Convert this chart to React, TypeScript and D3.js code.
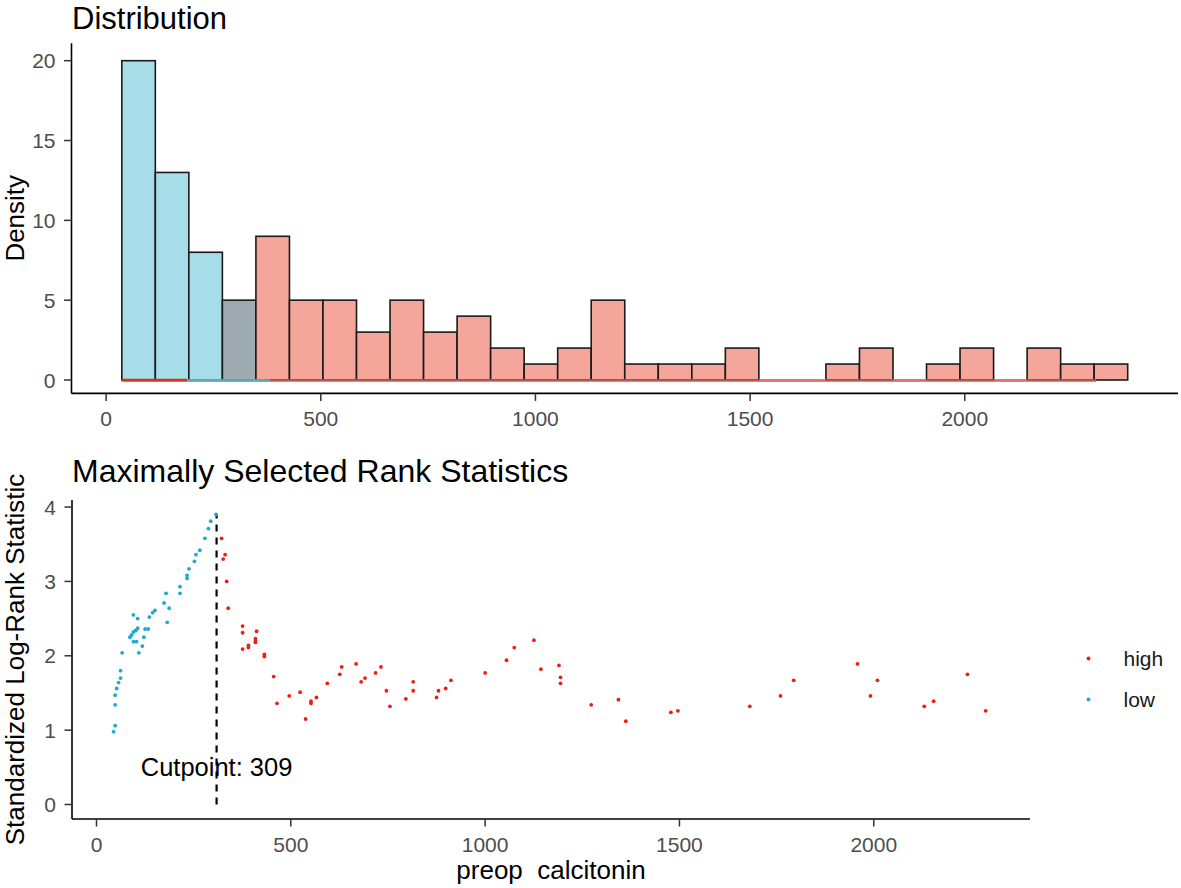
import React from "react";
import * as d3 from "d3";

// ---------------- Data ----------------
// Histogram (top panel)
const binStart = 36.5;
const binWidth = 78.1;
const binCounts = [20, 13, 8, 5, 9, 5, 5, 3, 5, 3, 4, 2, 1, 2, 5, 1, 1, 1, 2, 0, 0, 1, 2, 0, 1, 2, 0, 2, 1, 1];
const binGroups = ["low", "low", "low", "mix", "high", "high", "high", "high", "high", "high", "high", "high", "high", "high", "high",
  "high", "high", "high", "high", "high", "high", "high", "high", "high", "high", "high", "high", "high", "high", "high"];
const histYTicks = [0, 5, 10, 15, 20];
const histXTicks = [0, 500, 1000, 1500, 2000];
// density curves (flat near zero on the count scale)
const densitySegments = [
  { group: "low", from: 36.5, to: 2306, under: true },
  { group: "high", from: 36.5, to: 2306, under: false },
  { group: "highThick", from: 36.5, to: 188, under: false },
  { group: "low", from: 188, to: 381, under: false },
];

// Maximally selected rank statistics (bottom panel)
const cutpoint = 309;
const maxStat = 3.9;
const lowPoints: [number, number][] = [
  [44, 0.98], [48, 1.06], [48, 1.34], [48, 1.47], [52, 1.56], [57, 1.64], [62, 1.7], [62, 1.8], [66, 2.04],
  [86, 2.25], [90.5, 2.28], [95, 2.32], [101, 2.34], [106, 2.37], [95, 2.19], [103, 2.19], [109, 2.04],
  [118, 2.13], [122, 2.25], [125, 2.36], [133, 2.36], [95, 2.55], [106, 2.5], [136, 2.52], [144.6, 2.58],
  [150.5, 2.61], [174, 2.71], [182, 2.45], [187, 2.64], [179, 2.84], [215, 2.84], [215, 2.93], [233, 3.04],
  [233, 3.08], [238, 3.17], [252, 3.27], [256, 3.36], [266, 3.42], [279, 3.58], [288, 3.71], [294, 3.81],
  [307.5, 3.9],
];
const highPoints: [number, number][] = [
  [322, 3.58], [326, 3.3], [331, 3.36], [335, 3.0], [339, 2.64], [376, 2.4], [376, 2.31], [376, 2.09],
  [391, 2.14], [391, 2.11], [409, 2.23], [409, 2.2], [409, 2.18], [412, 2.33], [432, 2.02], [432, 1.99],
  [456, 1.72], [464.5, 1.36], [496, 1.46], [524, 1.51], [538, 1.15], [552, 1.39], [552, 1.36], [566, 1.44],
  [594, 1.63], [626, 1.75], [631, 1.85], [668, 1.89], [681, 1.65], [691, 1.7], [718, 1.77], [732, 1.85],
  [746, 1.53], [755, 1.32], [796, 1.42], [815, 1.65], [815, 1.53], [875, 1.44], [880, 1.53], [898.5, 1.56],
  [912, 1.67], [1000, 1.77], [1055, 1.94], [1075, 2.11], [1125.6, 2.21], [1143.6, 1.82], [1190, 1.87],
  [1194, 1.71], [1194, 1.63], [1273, 1.34], [1343, 1.41], [1362, 1.12], [1478, 1.24], [1496, 1.26],
  [1681, 1.32], [1760, 1.46], [1794, 1.67], [1958, 1.89], [1991.5, 1.46], [2009.5, 1.67], [2130, 1.32],
  [2154, 1.39], [2241, 1.75], [2288, 1.26],
];
const statYTicks = [0, 1, 2, 3, 4];
const statXTicks = [0, 500, 1000, 1500, 2000];
const legendItems = ["high", "low"];

// ---------------- Styles ----------------
const FONT = "'Liberation Sans', Arial, Helvetica, sans-serif";
const fills: Record<string, string> = { low: "#A7DCE9", high: "#F4A69B", mix: "#9EACB2" };
const densityColors: Record<string, string> = { low: "#3EC3DE", high: "#EE4A3A", highThick: "#D8301F" };
const pointColors: Record<string, string> = { high: "#F01D12", low: "#1FA9CC" };
const tickColor = "#4D4D4D";

export default function App() {
  const W = 1181, H = 888;

  // top panel scales
  const binEnd = binStart + binWidth * binCounts.length;
  const hxPad = (binEnd - binStart) * 0.05;
  const hx = d3.scaleLinear().domain([binStart - hxPad, binEnd + hxPad]).range([71.5, 1178]);
  const hy = d3.scaleLinear().domain([0, 20]).range([380, 60.7]);
  const hyLo = -0.84, hyHi = 21.1;
  const bins = binCounts.map((c, i) => ({ x0: binStart + i * binWidth, x1: binStart + (i + 1) * binWidth, c, g: binGroups[i] }));

  // bottom panel scales
  const sx = d3.scaleLinear().domain([-63, 2402]).range([72, 1030]);
  const sy = d3.scaleLinear().domain([-0.195, 4.095]).range([819, 500]);

  const topAxisY = hy(hyLo);
  const topAxisX = hx.range()[0];
  const botAxisY = sy.range()[0];
  const botAxisX = sx.range()[0];

  return (
    <svg width={W} height={H} style={{ position: "absolute", left: 0, top: 0, background: "#fff" }} fontFamily={FONT}>
      <rect x={0} y={0} width={W} height={H} fill="#fff" />
      {/* ---------- Top: Distribution ---------- */}
      <text x={72} y={28.5} fontSize={31} fill="#000">Distribution</text>
      {/* bars (zero-height bins drawn as nothing) */}
      {bins.map((b, i) =>
        b.c > 0 ? (
          <rect key={i} x={hx(b.x0)} y={hy(b.c)} width={hx(b.x1) - hx(b.x0)} height={hy(0) - hy(b.c)}
            fill={fills[b.g]} stroke="#1a1a1a" strokeWidth={1.6} />
        ) : null
      )}
      {/* density lines at baseline */}
      {densitySegments.map((s, i) => (
        <line key={i} x1={hx(s.from)} x2={hx(s.to)} y1={hy(0) + (s.under ? 1.2 : 0)} y2={hy(0) + (s.under ? 1.2 : 0)}
          stroke={densityColors[s.group]} strokeWidth={s.group === "highThick" ? 2.4 : 1.5} />
      ))}
      {/* axes */}
      <line x1={topAxisX} x2={topAxisX} y1={hy(hyHi)} y2={topAxisY} stroke="#000" strokeWidth={1.6} />
      <line x1={topAxisX} x2={hx.range()[1]} y1={topAxisY} y2={topAxisY} stroke="#000" strokeWidth={1.6} />
      {histYTicks.map((t) => (
        <g key={t}>
          <line x1={topAxisX - 7.5} x2={topAxisX} y1={hy(t)} y2={hy(t)} stroke="#333" strokeWidth={1.5} />
          <text x={topAxisX - 16} y={hy(t)} dy="0.36em" textAnchor="end" fontSize={21} fill={tickColor}>{t}</text>
        </g>
      ))}
      {histXTicks.map((t) => (
        <g key={t}>
          <line x1={hx(t)} x2={hx(t)} y1={topAxisY} y2={topAxisY + 7.5} stroke="#333" strokeWidth={1.5} />
          <text x={hx(t)} y={topAxisY + 33} textAnchor="middle" fontSize={21} fill={tickColor}>{t}</text>
        </g>
      ))}
      <text transform={`translate(23.5, ${(hy(hyLo) + hy(hyHi)) / 2}) rotate(-90)`} textAnchor="middle" fontSize={26} fill="#000">Density</text>

      {/* ---------- Bottom: Maximally Selected Rank Statistics ---------- */}
      <text x={72} y={481.5} fontSize={32} fill="#000">Maximally Selected Rank Statistics</text>
      {/* cutpoint segment */}
      <line x1={sx(cutpoint)} x2={sx(cutpoint)} y1={sy(0)} y2={sy(maxStat)} stroke="#000" strokeWidth={2.2} strokeDasharray="7,6" />
      <text x={sx(cutpoint)} y={sy(0.5) + 9} textAnchor="middle" fontSize={25.5} fill="#000">{`Cutpoint: ${cutpoint}`}</text>
      {/* points */}
      {lowPoints.map((p, i) => (
        <circle key={"l" + i} cx={sx(p[0])} cy={sy(p[1])} r={1.9} fill={pointColors.low} />
      ))}
      {highPoints.map((p, i) => (
        <circle key={"h" + i} cx={sx(p[0])} cy={sy(p[1])} r={1.9} fill={pointColors.high} />
      ))}
      {/* axes */}
      <line x1={botAxisX} x2={botAxisX} y1={sy.range()[1]} y2={botAxisY} stroke="#000" strokeWidth={1.6} />
      <line x1={botAxisX} x2={sx.range()[1]} y1={botAxisY} y2={botAxisY} stroke="#000" strokeWidth={1.6} />
      {statYTicks.map((t) => (
        <g key={t}>
          <line x1={botAxisX - 7.5} x2={botAxisX} y1={sy(t)} y2={sy(t)} stroke="#333" strokeWidth={1.5} />
          <text x={botAxisX - 16} y={sy(t)} dy="0.36em" textAnchor="end" fontSize={21} fill={tickColor}>{t}</text>
        </g>
      ))}
      {statXTicks.map((t) => (
        <g key={t}>
          <line x1={sx(t)} x2={sx(t)} y1={botAxisY} y2={botAxisY + 7.5} stroke="#333" strokeWidth={1.5} />
          <text x={sx(t)} y={botAxisY + 33} textAnchor="middle" fontSize={21} fill={tickColor}>{t}</text>
        </g>
      ))}
      <text x={(sx.range()[0] + sx.range()[1]) / 2} y={879} textAnchor="middle" fontSize={26} fill="#000" style={{ whiteSpace: "pre" }}>{"preop  calcitonin"}</text>
      <text transform={`translate(24, ${(sy.range()[0] + sy.range()[1]) / 2}) rotate(-90)`} textAnchor="middle" fontSize={26} fill="#000">Standardized Log-Rank Statistic</text>

      {/* legend */}
      {legendItems.map((k, i) => (
        <g key={k} transform={`translate(1088.5, ${658.5 + i * 41})`}>
          <circle cx={0} cy={0} r={1.9} fill={pointColors[k]} />
          <text x={35} y={0} dy="0.36em" fontSize={21} fill="#1a1a1a">{k}</text>
        </g>
      ))}
    </svg>
  );
}
